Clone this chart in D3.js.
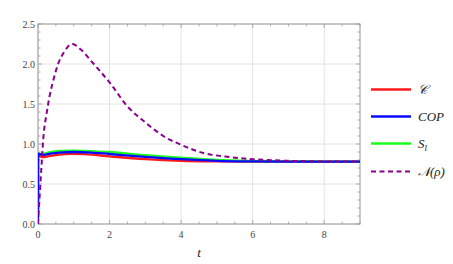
<!DOCTYPE html>
<html><head><meta charset="utf-8">
<script src="https://cdn.jsdelivr.net/npm/d3@7"></script>
<style>body{margin:0;background:#fff}svg{display:block}</style>
</head><body><svg id="c" width="453" height="264"></svg>
<script>
// Data
const tN = [0, 0.05, 0.1, 0.15, 0.24, 0.32, 0.43, 0.57, 0.73, 0.95, 1.2, 1.5, 2.0, 2.5, 3.0, 3.25, 3.5, 4.0, 4.6, 5.3, 6.0, 7.0, 8.0, 9.0];
const vN = [0, 0.38, 0.74, 1.08, 1.38, 1.59, 1.8, 2.01, 2.15, 2.25, 2.18, 2.03, 1.77, 1.47, 1.27, 1.18, 1.1, 0.99, 0.89, 0.84, 0.81, 0.79, 0.782, 0.78];
const tC = [0, 0.05, 0.13, 0.3, 0.6, 0.9, 1.3, 2.0, 3.0, 4.0, 5.0, 6.0, 7.0, 9.0];
const vC = [0.87, 0.85, 0.835, 0.848, 0.868, 0.877, 0.873, 0.845, 0.81, 0.79, 0.783, 0.78, 0.78, 0.78];
const tCOP = [0, 0.01, 0.13, 0.3, 0.6, 1.0, 1.5, 2.0, 3.0, 4.0, 5.0, 6.0, 7.0, 9.0];
const vCOP = [0, 0.88, 0.862, 0.876, 0.893, 0.9, 0.893, 0.875, 0.84, 0.81, 0.79, 0.783, 0.78, 0.78];
const tS = [0, 0.13, 0.3, 0.6, 1.0, 1.5, 2.0, 3.0, 4.0, 5.0, 6.0, 7.0, 9.0];
const vS = [0.875, 0.877, 0.895, 0.913, 0.918, 0.91, 0.9, 0.86, 0.83, 0.8, 0.787, 0.782, 0.78];
const xTicks = [0, 2, 4, 6, 8];
const yTicks = [0.0, 0.5, 1.0, 1.5, 2.0, 2.5];
const legendLabels = ["𝒞", "COP", "S", "𝒩(ρ)"];

const svg = d3.select("#c");
const L = 38, R = 360, T = 24, B = 224;
const x = d3.scaleLinear().domain([0, 9]).range([L, R]);
const y = d3.scaleLinear().domain([0, 2.5]).range([B, T]);
const grey = "#9a9a9a";

// gridlines
const g = svg.append("g");
g.selectAll(".gx").data(xTicks).join("line")
  .attr("x1", d => x(d)).attr("x2", d => x(d)).attr("y1", T).attr("y2", B)
  .attr("stroke", "#e4e4e4").attr("stroke-width", 1);
g.selectAll(".gy").data(yTicks).join("line")
  .attr("y1", d => y(d)).attr("y2", d => y(d)).attr("x1", L).attr("x2", R)
  .attr("stroke", "#e4e4e4").attr("stroke-width", 1);

// frame
svg.append("rect").attr("x", L).attr("y", T).attr("width", R - L).attr("height", B - T)
  .attr("fill", "none").attr("stroke", grey).attr("stroke-width", 1);

// ticks (inward) on all four sides
const xMinor = d3.range(0, 9.01, 0.5);
const yMinor = d3.range(0, 2.501, 0.1);
const isMajX = d => Math.abs(d / 2 - Math.round(d / 2)) < 1e-6;
const isMajY = d => Math.abs(d / 0.5 - Math.round(d / 0.5)) < 1e-6;
const tk = svg.append("g").attr("stroke", grey).attr("stroke-width", 0.8);
xMinor.forEach(d => {
  const len = isMajX(d) ? 4 : 2.5;
  tk.append("line").attr("x1", x(d)).attr("x2", x(d)).attr("y1", B).attr("y2", B - len);
  tk.append("line").attr("x1", x(d)).attr("x2", x(d)).attr("y1", T).attr("y2", T + len);
});
yMinor.forEach(d => {
  const len = isMajY(d) ? 4 : 2.5;
  tk.append("line").attr("y1", y(d)).attr("y2", y(d)).attr("x1", L).attr("x2", L + len);
  tk.append("line").attr("y1", y(d)).attr("y2", y(d)).attr("x1", R).attr("x2", R - len);
});

// tick labels
const font = "'Liberation Serif', 'DejaVu Serif', serif";
svg.append("g").selectAll("text").data(yTicks).join("text")
  .attr("x", L - 3).attr("y", d => y(d) + 3.5).attr("text-anchor", "end")
  .attr("font-family", font).attr("font-size", 10).attr("fill", "#444")
  .text(d => d3.format(".1f")(d));
svg.append("g").selectAll("text").data(xTicks).join("text")
  .attr("x", d => x(d)).attr("y", 238).attr("text-anchor", "middle")
  .attr("font-family", font).attr("font-size", 10).attr("fill", "#444")
  .text(d => d);
svg.append("text").attr("x", 199).attr("y", 257).attr("text-anchor", "middle")
  .attr("font-family", font).attr("font-style", "italic").attr("font-size", 13).attr("fill", "#222")
  .text("t");

// clip
svg.append("clipPath").attr("id", "clip").append("rect")
  .attr("x", L).attr("y", T).attr("width", R - L).attr("height", B - T);
const plot = svg.append("g").attr("clip-path", "url(#clip)");
const line = d3.line().x(d => x(d[0])).y(d => y(d[1])).curve(d3.curveMonotoneX);
const zip = (a, b) => a.map((t, i) => [t, b[i]]);

const series = [
  { t: tC, v: vC, color: "#ff1a1a", w: 2.3, dash: null },
  { t: tS, v: vS, color: "#1aff1a", w: 2.3, dash: null },
  { t: tCOP, v: vCOP, color: "#0a0aff", w: 2.3, dash: null },
  { t: tN, v: vN, color: "#8b008b", w: 2, dash: "5,3.5" }
];
series.forEach(s => {
  plot.append("path").attr("d", line(zip(s.t, s.v))).attr("fill", "none")
    .attr("stroke", s.color).attr("stroke-width", s.w)
    .attr("stroke-dasharray", s.dash);
});

// legend
const leg = [
  { color: "#ff1a1a", dash: null, y: 89.5 },
  { color: "#0a0aff", dash: null, y: 116.5 },
  { color: "#1aff1a", dash: null, y: 143.5 },
  { color: "#8b008b", dash: "5,3.5", y: 171.5 }
];
leg.forEach((d, i) => {
  svg.append("line").attr("x1", 371).attr("x2", 411).attr("y1", d.y).attr("y2", d.y)
    .attr("stroke", d.color).attr("stroke-width", d.dash ? 2 : 2.3).attr("stroke-dasharray", d.dash);
  const tx = svg.append("text").attr("x", 418).attr("y", d.y + 4.5)
    .attr("font-family", font).attr("font-style", "italic").attr("font-size", 13).attr("fill", "#222");
  if (i === 2) {
    tx.text(legendLabels[i]);
    tx.append("tspan").attr("font-size", 9).attr("dy", 3).text("l");
  } else {
    tx.text(legendLabels[i]);
  }
});
</script></body></html>
